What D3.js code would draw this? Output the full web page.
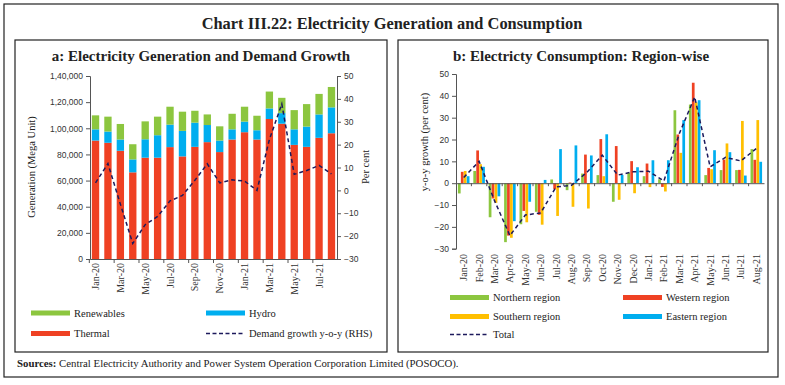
<!DOCTYPE html>
<html>
<head>
<meta charset="utf-8">
<script src="https://cdnjs.cloudflare.com/ajax/libs/d3/7.8.5/d3.min.js"></script>
<style>
  body { margin: 0; background: #fff; }
  svg text { font-family: "Liberation Serif", serif; fill: #222; }
  .tick text { font-family: "Liberation Sans", sans-serif; font-size: 8.5px; fill: #333; }
  .xlab .tick text { font-family: "Liberation Serif", serif; font-size: 10px; }
  .domain, .tick line { stroke: #555; }
</style>
</head>
<body>
<svg id="chart" width="785" height="385"></svg>
<script>
const months = ['Jan-20','Feb-20','Mar-20','Apr-20','May-20','Jun-20','Jul-20','Aug-20','Sep-20','Oct-20',
  'Nov-20','Dec-20','Jan-21','Feb-21','Mar-21','Apr-21','May-21','Jun-21','Jul-21','Aug-21'];

// panel a: generation (Mega Unit)
const thermal = [90600, 88900, 82800, 66300, 77500, 77500, 85600, 78500, 85800, 89400,
  81800, 91400, 97000, 91400, 107100, 103500, 87300, 85800, 92700, 96200];
const hydro = [8600, 8600, 8600, 9900, 14100, 17200, 17200, 19500, 18500, 13100,
  8800, 7800, 8100, 7100, 8100, 8100, 11900, 15500, 17900, 19800];
const renewables = [10700, 11400, 11900, 11600, 13700, 14200, 13700, 14700, 9100, 8100,
  10900, 11900, 11400, 11100, 12900, 11700, 14700, 17200, 15700, 15600];
const demandGrowth = [3.3, 11.7, -6, -23.2, -15, -11.4, -4.6, -2.2, 4.4, 11.6,
  3.3, 4.6, 4.1, 0, 22.2, 37.8, 7.0, 8.7, 10.9, 7.2];
const genTicks = [0, 20000, 40000, 60000, 80000, 100000, 120000, 140000];
const pctTicks = [-30, -20, -10, 0, 10, 20, 30, 40, 50];

// panel b: consumption growth y-o-y (per cent)
const regions = ['Northern region', 'Western region', 'Southern region', 'Eastern region'];
const northern = [-4.7, 5.6, -15.6, -27, -18.8, -13.1, 1.7, -3.2, 4.4, 3.7,
  -8.5, 4.7, 3.2, 1.8, 33.4, 36, 3.7, 6, 6, 15.6];
const western = [5.2, 15, -7, -24, -12.7, -14.5, -2.7, 0.3, 13.1, 20.2,
  17, 10.1, 9, -1.7, 22.3, 46, 7, 10.8, 6.1, 10.7];
const southern = [5.6, 8.7, -9, -25, -17.9, -19, -15, -10.8, -11.6, 3.2,
  -7.6, -4.6, -1.8, -3.8, 13.9, 37, 6.4, 18.2, 28.5, 28.9];
const eastern = [3.2, 7.5, -6, -17.4, -8.5, 1.5, 15.6, 17.3, 12.7, 22.4,
  3.8, 7.3, 10.5, 10.5, 28.9, 38, 15.1, 14.2, 3.5, 9.8];
const totalGrowth = [2.6, 10, -8, -24, -14.6, -13.6, -1.7, -1, 5, 12.8,
  3.7, 5.2, 5.5, 1, 22.7, 39.5, 7.5, 11.8, 10.2, 15.9];

const green = '#8cc63f', blue = '#00aeef', red = '#ef4123', yellow = '#ffbf00', navy = '#1d1a5c';

const svg = d3.select('#chart');
const indian = n => {
  if (n < 100000) return d3.format(',')(n);
  const s = String(n);
  return s.slice(0, s.length - 5) + ',' + s.slice(-5, -3) + ',' + s.slice(-3);
};

// frames
svg.append('rect').attr('x', 4).attr('y', 4).attr('width', 774).attr('height', 373)
  .attr('fill', 'none').attr('stroke', '#222').attr('stroke-width', 1.2);
svg.append('rect').attr('x', 15).attr('y', 40).attr('width', 372).attr('height', 312)
  .attr('fill', 'none').attr('stroke', '#222').attr('stroke-width', 1.2);
svg.append('rect').attr('x', 398).attr('y', 40).attr('width', 370).attr('height', 312)
  .attr('fill', 'none').attr('stroke', '#222').attr('stroke-width', 1.2);

svg.append('text').attr('x', 392).attr('y', 28.5).attr('text-anchor', 'middle')
  .style('font-size', '16.4px').style('font-weight', 'bold')
  .text('Chart III.22: Electricity Generation and Consumption');

svg.append('text').attr('x', 17).attr('y', 367).style('font-size', '10.8px')
  .call(t => {
    t.append('tspan').style('font-weight', 'bold').text('Sources: ');
    t.append('tspan').text('Central Electricity Authority and Power System Operation Corporation Limited (POSOCO).');
  });

// ---------- panel a ----------
{
  const x = d3.scaleBand().domain(months).range([90, 337]).paddingInner(0.41).paddingOuter(0.15);
  const y = d3.scaleLinear().domain([0, 140000]).range([259, 76]);
  const y2 = d3.scaleLinear().domain([-30, 50]).range([259, 76]);

  svg.append('text').attr('x', 201).attr('y', 61).attr('text-anchor', 'middle')
    .style('font-size', '15px').style('font-weight', 'bold')
    .text('a: Electricity Generation and Demand Growth');

  const stack = d3.stack().keys(['thermal', 'hydro', 'renewables'])(
    months.map((m, i) => ({ m, thermal: thermal[i], hydro: hydro[i], renewables: renewables[i] })));
  const colors = [red, blue, green];

  svg.append('g').selectAll('g').data(stack).join('g')
    .attr('fill', (d, i) => colors[i])
    .selectAll('rect').data(d => d).join('rect')
    .attr('x', d => x(d.data.m))
    .attr('width', x.bandwidth())
    .attr('y', d => y(d[1]))
    .attr('height', d => y(d[0]) - y(d[1]));

  svg.append('g').attr('transform', 'translate(90,0)')
    .call(d3.axisLeft(y).tickValues(genTicks).tickFormat(indian).tickSize(4).tickPadding(3));
  svg.append('g').attr('transform', 'translate(337,0)')
    .call(d3.axisRight(y2).tickValues(pctTicks).tickSize(4).tickPadding(3));

  const labelled = months.filter((d, i) => i % 2 === 0);
  svg.append('g').attr('class', 'xlab').attr('transform', 'translate(0,259)')
    .call(d3.axisBottom(x).tickValues(labelled).tickSize(0).tickPadding(3))
    .call(g => g.selectAll('.tick text')
      .attr('transform', 'rotate(-90)').attr('text-anchor', 'end')
      .attr('x', -4).attr('y', 0).attr('dy', '0.35em'))
    .call(g => g.selectAll('.bnd').data(labelled).join('line').attr('class', 'bnd')
      .attr('x1', d => x(d) - x.step() * x.paddingInner() / 2)
      .attr('x2', d => x(d) - x.step() * x.paddingInner() / 2)
      .attr('y1', 0).attr('y2', 4).attr('stroke', '#555'));

  const line = d3.line().x((d, i) => x(months[i]) + x.bandwidth() / 2).y(d => y2(d));
  svg.append('path').datum(demandGrowth).attr('d', line)
    .attr('fill', 'none').attr('stroke', navy).attr('stroke-width', 1.5).attr('stroke-dasharray', '4,3');

  svg.append('text').attr('transform', 'translate(35,167) rotate(-90)').attr('text-anchor', 'middle')
    .style('font-size', '10.5px').text('Generation (Mega Unit)');
  svg.append('text').attr('transform', 'translate(369,167) rotate(-90)').attr('text-anchor', 'middle')
    .style('font-size', '10.5px').text('Per cent');

  const leg = [
    { k: 'Renewables', c: green, x: 31, y: 313 },
    { k: 'Hydro', c: blue, x: 206, y: 313 },
    { k: 'Thermal', c: red, x: 31, y: 333.5 },
    { k: 'Demand growth y-o-y (RHS)', c: navy, x: 206, y: 333.5, dash: true }
  ];
  const lg = svg.append('g').selectAll('g').data(leg).join('g')
    .attr('transform', d => `translate(${d.x},${d.y})`);
  lg.append('line').attr('x1', 0).attr('x2', 39)
    .attr('stroke', d => d.c).attr('stroke-width', d => d.dash ? 1.5 : 5)
    .attr('stroke-dasharray', d => d.dash ? '4,2.5' : null);
  lg.append('text').attr('x', 43).attr('dy', '0.35em').style('font-size', '10.5px').text(d => d.k);
}

// ---------- panel b ----------
{
  const x = d3.scaleBand().domain(months).range([456, 764]).paddingInner(0.25).paddingOuter(0.125);
  const xi = d3.scaleBand().domain(regions).range([0, x.bandwidth()]).paddingInner(0.08);
  const y = d3.scaleLinear().domain([-30, 50]).range([248.7, 74]);
  const series = [northern, western, southern, eastern];
  const colors = [green, red, yellow, blue];

  svg.append('text').attr('x', 581).attr('y', 61).attr('text-anchor', 'middle')
    .style('font-size', '15px').style('font-weight', 'bold')
    .text('b: Electricty Consumption: Region-wise');

  const groups = svg.append('g').selectAll('g').data(months).join('g')
    .attr('transform', d => `translate(${x(d)},0)`);
  groups.selectAll('rect').data((m, i) => regions.map((r, j) => ({ r, v: series[j][i], c: colors[j] })))
    .join('rect')
    .attr('x', d => xi(d.r))
    .attr('width', xi.bandwidth())
    .attr('y', d => y(Math.max(0, d.v)))
    .attr('height', d => Math.abs(y(d.v) - y(0)))
    .attr('fill', d => d.c);

  svg.append('g').attr('transform', 'translate(456,0)')
    .call(d3.axisLeft(y).tickValues(pctTicks).tickSize(4).tickPadding(3));

  // zero line with ticks between months
  svg.append('g').attr('transform', `translate(0,${y(0)})`)
    .call(d3.axisBottom(x).tickSize(0).tickFormat(''))
    .call(g => g.selectAll('.bnd').data(months.slice(1)).join('line').attr('class', 'bnd')
      .attr('x1', d => x(d) - x.step() * x.paddingInner() / 2)
      .attr('x2', d => x(d) - x.step() * x.paddingInner() / 2)
      .attr('y1', 0).attr('y2', 3).attr('stroke', '#555'));

  svg.append('g').attr('class', 'xlab').attr('transform', 'translate(0,250)')
    .call(d3.axisBottom(x).tickSize(0).tickPadding(3))
    .call(g => g.select('.domain').remove())
    .call(g => g.selectAll('.tick text')
      .attr('transform', 'rotate(-90)').attr('text-anchor', 'end')
      .attr('x', -4).attr('y', 0).attr('dy', '0.35em'));

  const line = d3.line().x((d, i) => x(months[i]) + x.bandwidth() / 2).y(d => y(d));
  svg.append('path').datum(totalGrowth).attr('d', line)
    .attr('fill', 'none').attr('stroke', navy).attr('stroke-width', 1.5).attr('stroke-dasharray', '4,3');

  svg.append('text').attr('transform', 'translate(428,142) rotate(-90)').attr('text-anchor', 'middle')
    .style('font-size', '10.5px').text('y-o-y growth (per cent)');

  const leg = [
    { k: 'Northern region', c: green, x: 450, y: 297.5 },
    { k: 'Western region', c: red, x: 623, y: 297.5 },
    { k: 'Southern region', c: yellow, x: 450, y: 316.5 },
    { k: 'Eastern region', c: blue, x: 623, y: 316.5 },
    { k: 'Total', c: navy, x: 450, y: 334.5, dash: true }
  ];
  const lg = svg.append('g').selectAll('g').data(leg).join('g')
    .attr('transform', d => `translate(${d.x},${d.y})`);
  lg.append('line').attr('x1', 0).attr('x2', 39)
    .attr('stroke', d => d.c).attr('stroke-width', d => d.dash ? 1.5 : 5)
    .attr('stroke-dasharray', d => d.dash ? '4,2.5' : null);
  lg.append('text').attr('x', 43).attr('dy', '0.35em').style('font-size', '10.5px').text(d => d.k);
}
</script>
</body>
</html>
